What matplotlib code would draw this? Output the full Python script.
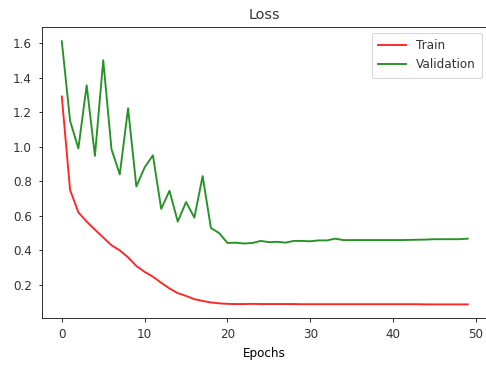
import numpy as np
import matplotlib.pyplot as plt

epochs = np.arange(50)

train_loss = [1.29, 0.75, 0.62, 0.567, 0.52, 0.475, 0.43, 0.40, 0.36, 0.31,
              0.276, 0.248, 0.213, 0.18, 0.153, 0.137, 0.118, 0.108, 0.099, 0.094,
              0.091, 0.090, 0.090, 0.091, 0.090, 0.090, 0.090, 0.090, 0.090, 0.089,
              0.089, 0.089, 0.089, 0.089, 0.089, 0.089, 0.089, 0.089, 0.089, 0.089,
              0.089, 0.089, 0.089, 0.089, 0.088, 0.088, 0.088, 0.088, 0.088, 0.088]

val_loss = [1.61, 1.15, 0.99, 1.355, 0.947, 1.50, 0.985, 0.84, 1.222, 0.77,
            0.88, 0.95, 0.64, 0.745, 0.567, 0.68, 0.59, 0.83, 0.53, 0.50,
            0.443, 0.445, 0.44, 0.443, 0.455, 0.448, 0.45, 0.445, 0.455, 0.455,
            0.453, 0.458, 0.458, 0.468, 0.46, 0.46, 0.46, 0.46, 0.46, 0.46,
            0.46, 0.46, 0.461, 0.462, 0.463, 0.465, 0.465, 0.465, 0.465, 0.468]

plt.rcParams['font.size'] = 12
plt.rcParams['text.color'] = '#333333'
plt.rcParams['xtick.labelcolor'] = '#333333'
plt.rcParams['ytick.labelcolor'] = '#333333'

fig = plt.figure(figsize=(486/72, 368/72), dpi=72)
ax = fig.add_axes([0.0854, 0.135, 0.9187, 0.7924])

ax.plot(epochs, train_loss, color='r', alpha=0.85, lw=1.9, label='Train')
ax.plot(epochs, val_loss, color='g', alpha=0.85, lw=1.9, label='Validation')
ax.set_ylim(0.0074, 1.694)
ax.tick_params(axis='x', pad=6)
ax.tick_params(axis='y', pad=6)
ax.set_title('Loss', pad=8)
ax.set_xlabel('Epochs', labelpad=6)
ax.legend(loc='upper right', borderpad=0.55, handlelength=2.3)

fig.savefig('out.png', dpi=72)
